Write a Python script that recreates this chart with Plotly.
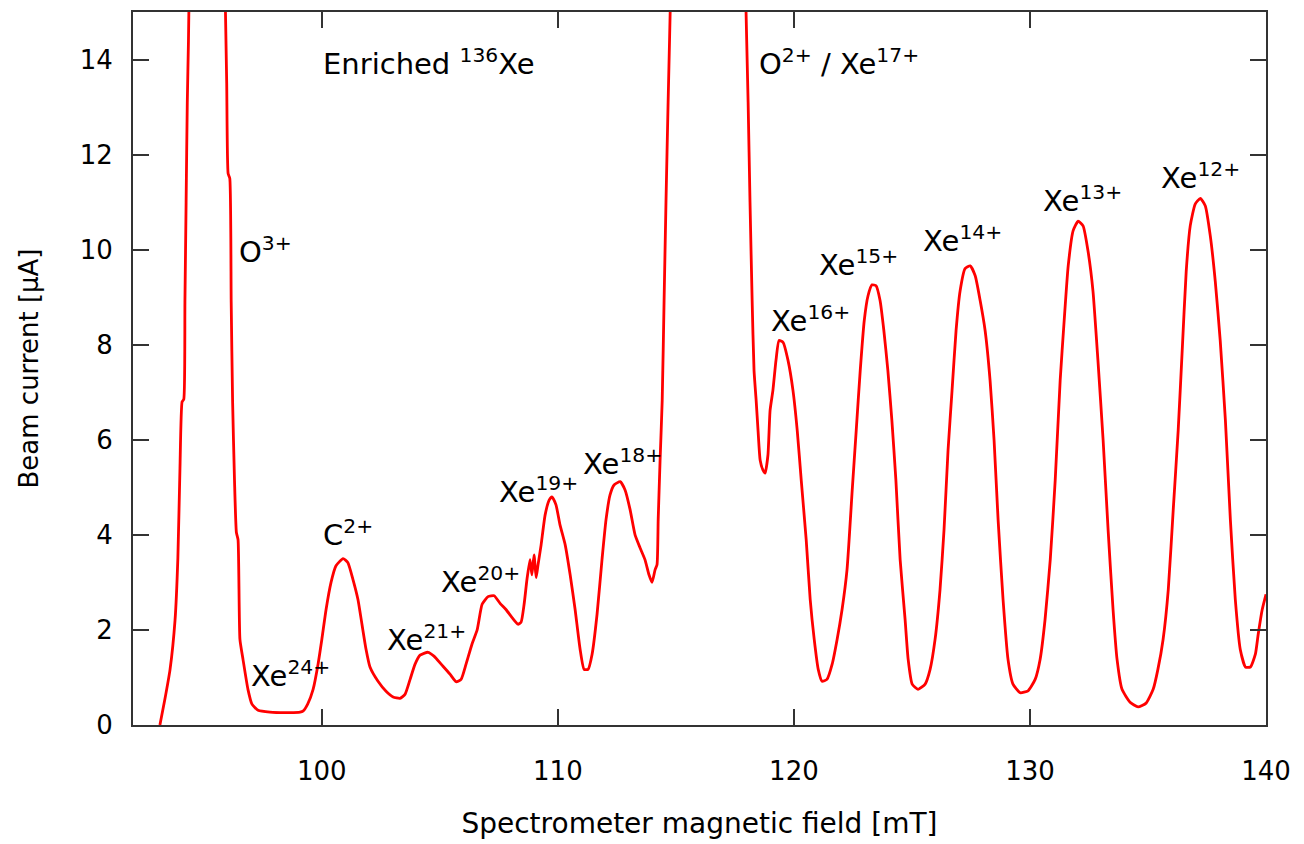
import plotly.graph_objects as go

# Spectrometer magnetic field [mT]
field_mT = [
    93.14, 93.35, 93.57, 93.78, 93.9, 93.99, 94.08, 94.15, 94.2, 94.25, 94.3, 94.35, 94.38,
    95.1,
    95.9, 95.97, 96.03, 96.1, 96.16, 96.22, 96.3, 96.38, 96.45, 96.53, 96.66, 96.87, 97.04,
    97.3, 97.8, 98.65, 99.08, 99.2, 99.4, 99.63, 99.84, 100.0, 100.18, 100.39, 100.6, 100.9,
    101.1, 101.32, 101.53, 101.7, 101.87, 102.04, 102.38, 102.72, 103.02, 103.31, 103.53,
    103.74, 103.95, 104.16, 104.5, 104.75, 105.09, 105.43, 105.69, 105.9, 106.11, 106.36,
    106.58, 106.79, 107.04, 107.3, 107.55, 107.8, 108.06, 108.31, 108.44, 108.57, 108.69,
    108.82, 108.9, 108.99, 109.08, 109.16, 109.29, 109.46, 109.63, 109.75, 109.92, 110.09,
    110.31, 110.52, 110.73, 110.94, 111.11, 111.28, 111.45, 111.66, 111.87, 112.04, 112.21,
    112.38, 112.64, 112.85, 113.06, 113.27, 113.48, 113.69, 113.86, 113.99, 114.12, 114.2,
    114.25, 114.33, 114.42, 114.5, 114.58, 114.67, 114.78,
    116.4,
    117.95, 118.06, 118.14, 118.23, 118.31, 118.4, 118.48, 118.57, 118.69, 118.78, 118.9,
    118.99, 119.11, 119.24, 119.37, 119.54, 119.75, 119.96, 120.14, 120.31, 120.52, 120.69,
    120.86, 121.03, 121.19, 121.4, 121.62, 121.83, 122.04, 122.25, 122.47, 122.64, 122.81,
    122.98, 123.14, 123.31, 123.48, 123.65, 123.81, 123.98, 124.15, 124.32, 124.5, 124.71,
    124.84, 125.01, 125.26, 125.56, 125.77, 125.98, 126.19, 126.36, 126.53, 126.7, 126.87,
    127.04, 127.25, 127.47, 127.68, 127.89, 128.1, 128.31, 128.48, 128.65, 128.86, 129.07,
    129.28, 129.58, 129.92, 130.22, 130.43, 130.64, 130.86, 131.07, 131.28, 131.45, 131.62,
    131.83, 132.04, 132.25, 132.46, 132.67, 132.88, 133.1, 133.31, 133.52, 133.69, 133.9,
    134.24, 134.58, 134.92, 135.22, 135.42, 135.64, 135.86, 136.07, 136.28, 136.45, 136.62,
    136.79, 137.0, 137.22, 137.43, 137.64, 137.85, 138.06, 138.28, 138.49, 138.7, 138.91,
    139.13, 139.34, 139.55, 139.67, 139.84, 140.0,
]

# Beam current [uA]
beam_uA = [
    0.0, 0.54, 1.17, 2.2, 3.5, 5.4, 6.8, 6.85, 8.9, 11.0, 13.1, 14.4, 15.5,
    40.0,
    15.5, 13.5, 11.6, 11.5, 8.9, 6.8, 5.15, 4.05, 3.9, 1.8, 1.38, 0.75, 0.44,
    0.31, 0.27, 0.26, 0.27, 0.29, 0.44, 0.75, 1.28, 1.8, 2.43, 3.0, 3.35, 3.5,
    3.42, 3.06, 2.64, 2.12, 1.6, 1.22, 0.92, 0.71, 0.59, 0.56, 0.65,
    0.96, 1.28, 1.47, 1.53, 1.45, 1.26, 1.07, 0.91, 0.96, 1.28, 1.7,
    2.0, 2.54, 2.7, 2.72, 2.56, 2.43, 2.26, 2.12, 2.16, 2.54, 3.06,
    3.48, 3.16, 3.58, 3.1, 3.37, 3.79, 4.42, 4.73, 4.8, 4.63, 4.21,
    3.79, 3.16, 2.43, 1.6, 1.17, 1.17, 1.49, 2.33, 3.48, 4.32, 4.84,
    5.05, 5.12, 4.94, 4.53, 4.0, 3.73, 3.48, 3.16, 3.0, 3.27, 3.37,
    4.32, 5.57, 6.83, 8.93, 11.0, 13.1, 15.5,
    60.0,
    15.5, 13.1, 11.0, 8.93, 7.46, 6.83, 6.2, 5.57, 5.36, 5.3, 5.68,
    6.62, 7.04, 7.67, 8.09, 8.05, 7.67, 7.04, 6.2, 5.15, 3.9, 2.64,
    1.8, 1.17, 0.92, 0.96, 1.28, 1.8, 2.43, 3.27, 4.94, 6.2, 7.46,
    8.51, 9.03, 9.26, 9.24, 8.93, 8.3, 7.46, 6.41, 5.15, 3.48, 2.22,
    1.38, 0.86, 0.75, 0.86, 1.17, 1.8, 2.85, 4.11, 5.78, 7.04, 8.3,
    9.13, 9.6, 9.66, 9.45, 8.93, 8.3, 7.25, 5.99, 4.32, 2.64, 1.38,
    0.86, 0.68, 0.72, 0.96, 1.38, 2.22, 3.48, 5.15, 7.25, 8.51, 9.66,
    10.4, 10.6, 10.5, 9.97, 9.13, 7.67, 5.99, 4.11, 2.43, 1.38, 0.75,
    0.48, 0.38, 0.46, 0.75, 1.17, 1.8, 2.85, 4.53, 6.2, 7.88, 9.55,
    10.5, 10.96, 11.08, 10.92, 10.29, 9.34, 8.09, 6.41, 4.32, 2.64, 1.59,
    1.22, 1.22, 1.49, 1.91, 2.43, 2.75,
]

# Peak labels: text, x (left edge), y (centre)
label_text = [
    "Enriched <sup>136</sup>Xe", "O<sup>2+</sup> / Xe<sup>17+</sup>", "O<sup>3+</sup>",
    "Xe<sup>24+</sup>", "C<sup>2+</sup>", "Xe<sup>21+</sup>", "Xe<sup>20+</sup>",
    "Xe<sup>19+</sup>", "Xe<sup>18+</sup>", "Xe<sup>16+</sup>", "Xe<sup>15+</sup>",
    "Xe<sup>14+</sup>", "Xe<sup>13+</sup>", "Xe<sup>12+</sup>",
]
label_x = [99.95, 118.45, 96.4, 96.9, 99.95, 102.68, 104.95, 107.42, 110.98,
           118.95, 120.98, 125.38, 130.47, 135.47]
label_y = [13.95, 13.95, 10.0, 1.07, 4.04, 1.84, 3.06, 4.94, 5.53,
           8.55, 9.72, 10.22, 11.06, 11.54]

x_ticks = [100, 110, 120, 130, 140]
y_ticks = [0, 2, 4, 6, 8, 10, 12, 14]

FONT = "DejaVu Sans"

fig = go.Figure()
fig.add_trace(go.Scatter(
    x=field_mT, y=beam_uA, mode="lines",
    line=dict(color="#ff0000", width=2.8, shape="spline", smoothing=0.5),
    showlegend=False, hoverinfo="skip",
))

for t, lx, ly in zip(label_text, label_x, label_y):
    fig.add_annotation(
        x=lx, y=ly, text=t, showarrow=False, xanchor="left", yanchor="middle",
        font=dict(family=FONT, size=29, color="#000000"),
    )

axis_common = dict(
    showgrid=False, zeroline=False, showline=True, linecolor="#333333", linewidth=2,
    mirror="allticks", ticks="inside", ticklen=16, tickwidth=2, tickcolor="#333333",
    tickfont=dict(family=FONT, size=26, color="#000000"),
)

fig.update_layout(
    width=1304, height=844,
    margin=dict(l=133, r=38, t=10, b=118),
    paper_bgcolor="white", plot_bgcolor="white",
    xaxis=dict(range=[92, 140], tickvals=x_ticks, ticklabelstandoff=22,
               title=dict(text="Spectrometer magnetic field [mT]", standoff=28,
                          font=dict(family=FONT, size=28, color="#000000")),
               **axis_common),
    yaxis=dict(range=[0, 15], tickvals=y_ticks, ticklabelstandoff=13,
               title=dict(text="Beam current [μA]", standoff=34,
                          font=dict(family=FONT, size=26, color="#000000")),
               **axis_common),
)

fig.write_html("out.html")
